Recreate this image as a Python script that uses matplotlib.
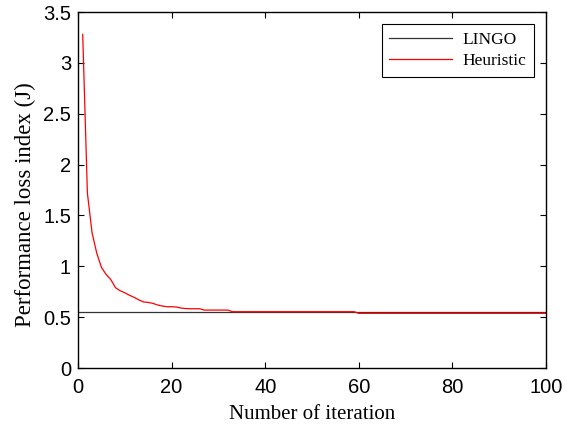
import matplotlib
matplotlib.use("Agg")
import matplotlib.pyplot as plt
import numpy as np

iterations = list(range(1, 101))
heuristic = ([3.28, 1.72, 1.33, 1.13, 0.99, 0.92, 0.87, 0.79, 0.76, 0.74,
              0.715, 0.695, 0.67, 0.65, 0.645, 0.636, 0.62, 0.61, 0.603, 0.603,
              0.600, 0.59, 0.585, 0.583, 0.583, 0.583, 0.57, 0.57, 0.57, 0.57,
              0.57, 0.57]
             + [0.554] * 27
             + [0.538] * 41)
lingo_value = 0.55

fig = plt.figure(figsize=(5.78, 4.26), dpi=100)
ax = fig.add_axes([0.135, 0.136, 0.8096, 0.8358])

ax.axhline(lingo_value, color="#333333", lw=0.9, label="LINGO")
ax.plot(iterations, heuristic, color="red", lw=0.9, label="Heuristic")

ax.set_xlim(0, 100)
ax.set_ylim(0, 3.5)
ax.set_xticks([0, 20, 40, 60, 80, 100])
ax.set_yticks([0, 0.5, 1, 1.5, 2, 2.5, 3, 3.5])
ax.set_yticklabels(["0", "0.5", "1", "1.5", "2", "2.5", "3", "3.5"])
ax.tick_params(direction="in", top=True, right=True, length=4, width=0.8,
               labelsize=14.5)
ax.tick_params(axis="x", pad=7)
ax.tick_params(axis="y", pad=5)
for lab in ax.get_xticklabels() + ax.get_yticklabels():
    lab.set_fontfamily("Liberation Sans")
for s in ax.spines.values():
    s.set_linewidth(1.0)

ax.set_xlabel("Number of iteration", fontfamily="Liberation Serif", fontsize=15, labelpad=6)
ax.set_ylabel("Performance loss index (J)", fontfamily="Liberation Serif", fontsize=16.5)
ax.yaxis.set_label_coords(-0.089, 0.46)

leg = ax.legend(loc="upper right", prop={"family": "Liberation Serif", "size": 12.5},
                fancybox=False, framealpha=1, edgecolor="black",
                handlelength=3.6, borderaxespad=0.7, labelspacing=0.3,
                borderpad=0.45, handletextpad=0.6)
leg.get_frame().set_linewidth(0.8)

fig.savefig("out.png", dpi=100)
